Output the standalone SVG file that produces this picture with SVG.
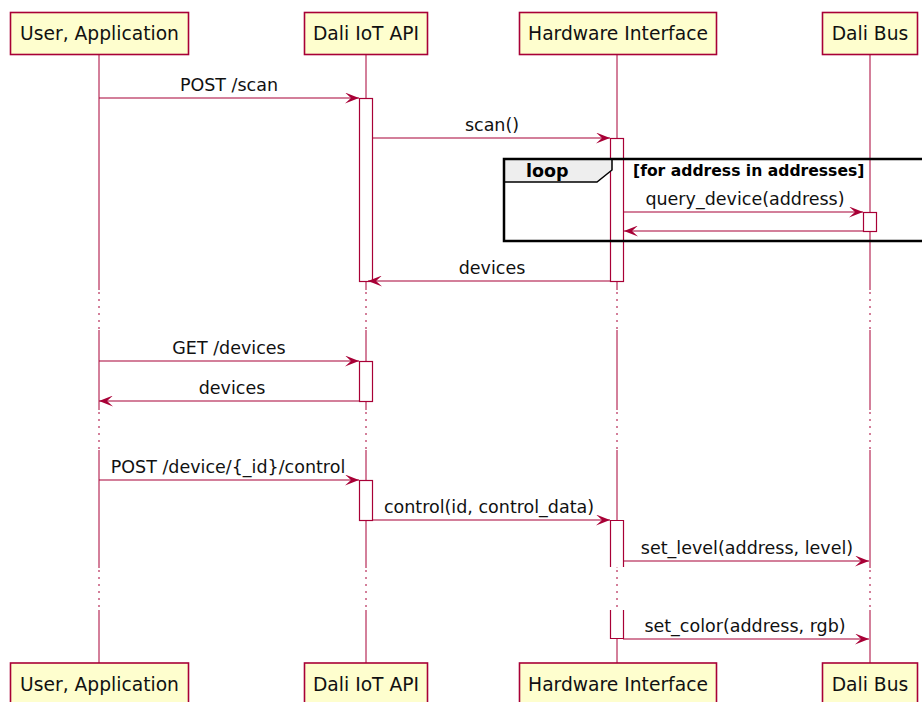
<svg xmlns="http://www.w3.org/2000/svg" width="922" height="702" viewBox="0 0 922 702">
<defs>
<style>
.box{fill:#FEFECE;stroke:#A80036;stroke-width:1.6}
.pt{font-family:"DejaVu Sans",sans-serif;font-size:18.7px;fill:#111;text-anchor:middle}
.life{stroke:#A80036;stroke-width:1;fill:none}
.dot{stroke:#A80036;stroke-width:1;fill:none;stroke-dasharray:2,5}
.act{fill:#FFFFFF;stroke:#A80036;stroke-width:1.2}
.msg{stroke:#A80036;stroke-width:1.2;fill:none}
.ml{font-family:"DejaVu Sans",sans-serif;font-size:17.5px;fill:#111;text-anchor:middle}
.lb{font-family:"DejaVu Sans",sans-serif;font-weight:bold;fill:#000}
</style>
<marker id="ah" viewBox="0 0 14 11" refX="14" refY="5.5" markerWidth="14" markerHeight="11" markerUnits="userSpaceOnUse" orient="auto">
<path d="M14,5.5 L0,0 L6,5.5 L0,11 Z" fill="#A80036"/>
</marker>
</defs>
<rect width="922" height="702" fill="#FFFFFF"/>

<g id="lifelines">
<g id="lifeline-user">
<path class="life" d="M99,54V290M99,330V410M99,450V568M99,610V663"/>
<path class="dot" d="M99,292V330M99,412V450M99,570V610"/>
</g>
<g id="lifeline-api">
<path class="life" d="M366,54V290M366,330V410M366,450V568M366,610V663"/>
<path class="dot" d="M366,292V330M366,412V450M366,570V610"/>
</g>
<g id="lifeline-hw">
<path class="life" d="M617,54V290M617,330V410M617,450V568M617,610V663"/>
<path class="dot" d="M617,292V330M617,412V450M617,570V610"/>
</g>
<g id="lifeline-bus">
<path class="life" d="M870,54V290M870,330V410M870,450V568M870,610V663"/>
<path class="dot" d="M870,292V330M870,412V450M870,570V610"/>
</g>
</g>

<g id="activations">
<rect class="act" x="359.5" y="98.5" width="13" height="183"/>
<rect class="act" x="610.5" y="138.5" width="13" height="143"/>
<rect class="act" x="359.5" y="361.5" width="13" height="40"/>
<rect class="act" x="359.5" y="480.5" width="13" height="40"/>
<rect x="610.5" y="520.5" width="13" height="47" fill="#FFFFFF"/>
<rect x="610.5" y="610" width="13" height="29" fill="#FFFFFF"/>
<path class="act" fill="none" d="M610.5,567V520.5H623.5V567M610.5,610V638.5H623.5V610"/>
</g>

<g id="loop">
<path d="M504,159H612V170L597,182H504Z" fill="#EEEEEE" stroke="#000" stroke-width="1.5"/>
<rect x="504" y="159" width="440" height="82" fill="none" stroke="#000" stroke-width="2.5"/>
<text class="lb" x="526" y="177" font-size="17.5px">loop</text>
<text class="lb" x="633" y="176" font-size="15.6px">[for address in addresses]</text>
</g>

<g id="bus-act">
<rect class="act" x="863.5" y="212.5" width="13" height="19"/>
</g>

<g id="connectors">
<line class="msg" x1="99" y1="98" x2="359" y2="98" marker-end="url(#ah)"/>
<text class="ml" x="229" y="91">POST /scan</text>
<line class="msg" x1="372" y1="138" x2="610" y2="138" marker-end="url(#ah)"/>
<text class="ml" x="492" y="131">scan()</text>
<line class="msg" x1="623" y1="212" x2="863" y2="212" marker-end="url(#ah)"/>
<text class="ml" x="745" y="205">query_device(address)</text>
<line class="msg" x1="863" y1="231" x2="624" y2="231" marker-end="url(#ah)"/>
<line class="msg" x1="610" y1="281" x2="368" y2="281" marker-end="url(#ah)"/>
<text class="ml" x="492" y="274">devices</text>
<line class="msg" x1="99" y1="361" x2="359" y2="361" marker-end="url(#ah)"/>
<text class="ml" x="229" y="354">GET /devices</text>
<line class="msg" x1="359" y1="401" x2="99" y2="401" marker-end="url(#ah)"/>
<text class="ml" x="232" y="394">devices</text>
<line class="msg" x1="99" y1="480" x2="359" y2="480" marker-end="url(#ah)"/>
<text class="ml" x="228" y="473">POST /device/{_id}/control</text>
<line class="msg" x1="372" y1="520" x2="610" y2="520" marker-end="url(#ah)"/>
<text class="ml" x="489" y="513">control(id, control_data)</text>
<line class="msg" x1="623" y1="561" x2="869" y2="561" marker-end="url(#ah)"/>
<text class="ml" x="747" y="554">set_level(address, level)</text>
<line class="msg" x1="623" y1="639" x2="869" y2="639" marker-end="url(#ah)"/>
<text class="ml" x="745" y="632">set_color(address, rgb)</text>
</g>

<g id="user">
<rect class="box" x="10.5" y="12.5" width="178" height="42"/>
<text class="pt" x="99.5" y="39.5">User, Application</text>
<rect class="box" x="10.5" y="663" width="178" height="42"/>
<text class="pt" x="99.5" y="691">User, Application</text>
</g>
<g id="api">
<rect class="box" x="304.5" y="12.5" width="123" height="42"/>
<text class="pt" x="366" y="39.5">Dali IoT API</text>
<rect class="box" x="304.5" y="663" width="123" height="42"/>
<text class="pt" x="366" y="691">Dali IoT API</text>
</g>
<g id="hw">
<rect class="box" x="519.5" y="12.5" width="197" height="42"/>
<text class="pt" x="618" y="39.5">Hardware Interface</text>
<rect class="box" x="519.5" y="663" width="197" height="42"/>
<text class="pt" x="618" y="691">Hardware Interface</text>
</g>
<g id="bus">
<rect class="box" x="822.5" y="12.5" width="95" height="42"/>
<text class="pt" x="870" y="39.5">Dali Bus</text>
<rect class="box" x="822.5" y="663" width="95" height="42"/>
<text class="pt" x="870" y="691">Dali Bus</text>
</g>
</svg>
